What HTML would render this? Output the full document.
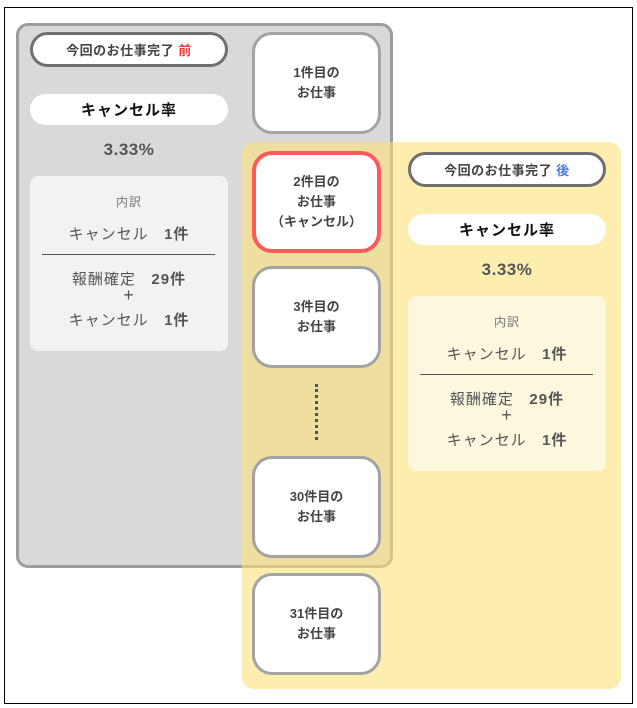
<!DOCTYPE html>
<html><head><meta charset="utf-8"><style>
body{margin:0;width:637px;height:708px;background:#fff;position:relative;overflow:hidden;font-family:"Liberation Sans","Noto Sans CJK JP",sans-serif;color:#444}
.a{position:absolute;box-sizing:border-box}
.frame{left:4px;top:7px;width:629px;height:697px;border:1px solid #000}
.gray{left:16px;top:23px;width:377px;height:545px;background:#d9d9d9;border:3px solid #9c9c9c;border-radius:12px}
.yel{left:242px;top:142px;width:379px;height:547px;background:rgba(252,226,123,0.6);border-radius:12px}
.card{width:129px;height:102px;background:#fff;border:3px solid #a3a3a3;border-radius:20px;display:flex;align-items:center;justify-content:center;text-align:center;font-size:13px;font-weight:bold;line-height:20px;color:#444;left:252px}
.pill{width:198px;height:35px;border:3px solid #6f6f6f;border-radius:18px;background:#fff;font-size:13px;font-weight:bold;display:flex;align-items:center;justify-content:center;letter-spacing:0.5px}
.rate{width:198px;height:31px;background:#fff;border-radius:16px;font-size:15px;font-weight:bold;color:#111;display:flex;align-items:center;justify-content:center;letter-spacing:1px}
.pct{width:198px;text-align:center;font-size:17px;font-weight:bold;color:#555;letter-spacing:0.5px}
.panel{width:198px;height:175px;border-radius:8px;text-align:center;color:#555}
.panel .t{position:absolute;left:0;width:100%;font-size:15px;letter-spacing:1px}
.panel b{font-weight:bold}
</style></head><body>
<div class="a frame"></div>
<div class="a gray"></div>
<div class="a yel"></div>

<div class="a pill" style="left:30px;top:32px">今回のお仕事完了&nbsp;<span style="color:#f03c3c">前</span></div>
<div class="a rate" style="left:30px;top:94px">キャンセル率</div>
<div class="a pct" style="left:30px;top:140px">3.33%</div>
<div class="a panel" style="left:30px;top:176px;background:#f2f2f2">
 <div class="t" style="top:17px;font-size:12px;color:#777">内訳</div>
 <div class="t" style="top:47px">キャンセル&nbsp;&nbsp;&nbsp;<b>1件</b></div>
 <div class="a" style="left:12px;top:78px;width:173px;height:1px;background:#555"></div>
 <div class="t" style="top:92px">報酬確定&nbsp;&nbsp;&nbsp;<b>29件</b></div>
 <div class="t" style="top:109px;font-size:18px;font-weight:normal">+</div>
 <div class="t" style="top:133px">キャンセル&nbsp;&nbsp;&nbsp;<b>1件</b></div>
</div>

<div class="a pill" style="left:408px;top:152px">今回のお仕事完了&nbsp;<span style="color:#4a7ae6">後</span></div>
<div class="a rate" style="left:408px;top:214px">キャンセル率</div>
<div class="a pct" style="left:408px;top:260px">3.33%</div>
<div class="a panel" style="left:408px;top:296px;background:#fdf7de">
 <div class="t" style="top:17px;font-size:12px;color:#777">内訳</div>
 <div class="t" style="top:47px">キャンセル&nbsp;&nbsp;&nbsp;<b>1件</b></div>
 <div class="a" style="left:12px;top:78px;width:173px;height:1px;background:#555"></div>
 <div class="t" style="top:92px">報酬確定&nbsp;&nbsp;&nbsp;<b>29件</b></div>
 <div class="t" style="top:109px;font-size:18px;font-weight:normal">+</div>
 <div class="t" style="top:133px">キャンセル&nbsp;&nbsp;&nbsp;<b>1件</b></div>
</div>

<div class="a card" style="top:32px">1件目の<br>お仕事</div>
<div class="a card" style="top:151px;border:4px solid #fd5a5a">2件目の<br>お仕事<br>（キャンセル）</div>
<div class="a card" style="top:266px">3件目の<br>お仕事</div>
<div class="a" style="left:315px;top:384px;width:0;height:56px;border-left:3px dotted #555"></div>
<div class="a card" style="top:456px">30件目の<br>お仕事</div>
<div class="a card" style="top:573px">31件目の<br>お仕事</div>
</body></html>
